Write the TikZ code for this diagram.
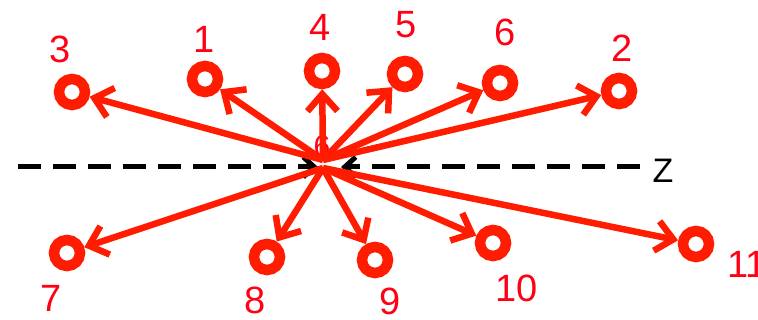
\documentclass[tikz,border=0pt]{standalone}
\usepackage{fontspec}
\setmainfont{Liberation Sans}
\usetikzlibrary{arrows.meta}
\definecolor{rd}{RGB}{255,28,0}
\definecolor{lbl}{RGB}{255,0,20}
\tikzset{
  ring/.style={circle, draw=rd, line width=10.5pt, minimum size=26pt, inner sep=0pt},
  ray/.style={draw=rd, line width=6.5pt, -{Straight Barb[length=17pt,width=30pt]}},
  axis/.style={draw=black, line width=5pt, dash pattern=on 23pt off 12pt, -{Straight Barb[length=11pt,width=20pt]}},
  num/.style={text=lbl, font=\fontsize{38}{40}\selectfont, inner sep=0pt},
}
\begin{document}
\begin{tikzpicture}[x=1pt,y=-1pt]
\useasboundingbox (0,0) rectangle (758,320);
% centre label
\node[num, font=\fontsize{30}{32}\selectfont] (c0) at (322,146) {6};
% axis
\coordinate (La) at (18,167);
\coordinate (Lt) at (318,167);
\coordinate (Ra) at (640,167);
\coordinate (Rt) at (341,167);
\draw[axis] (La) -- (Lt);
\draw[axis] (Ra) -- (Rt);
\node[font=\fontsize{34}{36}\selectfont, inner sep=0pt] (z) at (663,171) {Z};
% origins
\coordinate (Ou) at (323,160);
\coordinate (Od) at (323,168);
% circles
\node[ring] (c3) at (72,92) {};
\node[ring] (c1) at (205,79) {};
\node[ring] (c4) at (322,71) {};
\node[ring] (c5) at (405,74) {};
\node[ring] (c6) at (500,83) {};
\node[ring] (c2) at (619,91) {};
\node[ring] (c7) at (67,253) {};
\node[ring] (c8) at (267,257) {};
\node[ring] (c9) at (375,260) {};
\node[ring] (c10) at (493,243) {};
\node[ring] (c11) at (696,244) {};
% rays
\foreach \t in {c3,c1,c4,c5,c6,c2} \draw[ray] (Ou) -- (\t);
\foreach \t in {c7,c8,c9,c10,c11} \draw[ray] (Od) -- (\t);
% labels
\node[num] (l3) at (60,49) {3};
\node[num] (l1) at (204,39) {1};
\node[num] (l4) at (320,27) {4};
\node[num] (l5) at (406,25) {5};
\node[num] (l6) at (505,32) {6};
\node[num] (l2) at (622,48) {2};
\node[num] (l7) at (51,298) {7};
\node[num] (l8) at (255,300) {8};
\node[num] (l9) at (390,301) {9};
\node[num] (l10) at (517,288) {10};
\node[num, anchor=west] (l11) at (727,264) {11};
\end{tikzpicture}
\end{document}
